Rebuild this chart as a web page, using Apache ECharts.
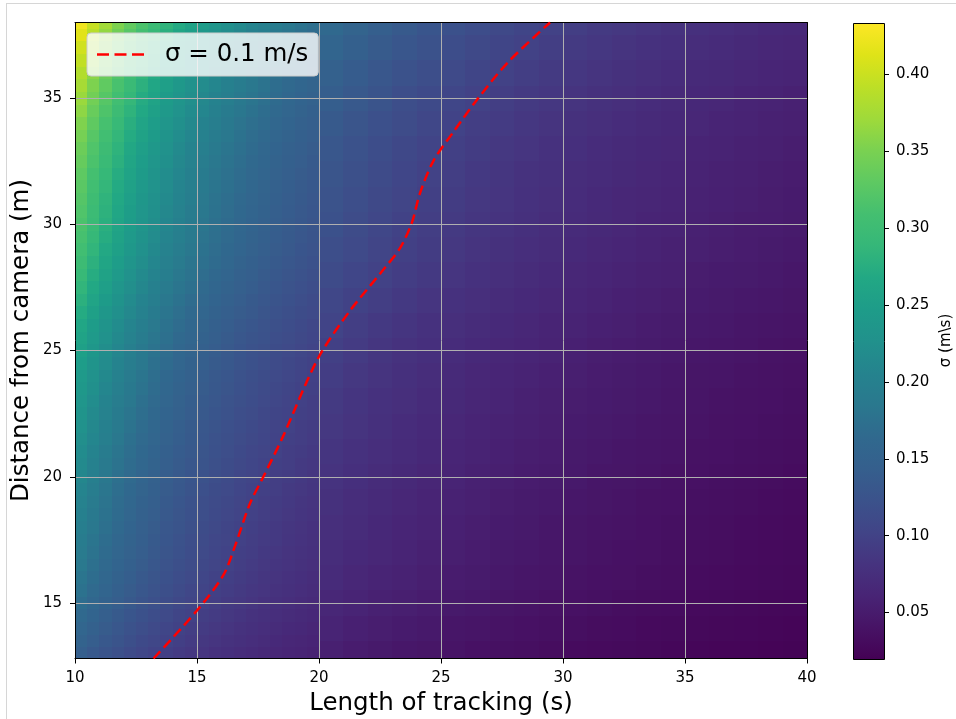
<!DOCTYPE html>
<html><head><meta charset="utf-8">
<script src="https://cdn.jsdelivr.net/npm/echarts@6/dist/echarts.min.js"></script>
<style>html,body{margin:0;padding:0;background:#fff}#c{width:956px;height:719px}</style>
</head><body><div id="c"></div>
<script>
// ---- data ----
// left part (T 10..20): finer cells
const xEdgesLeft = [10,10.5,11,11.5,12,12.5,13,13.5,14,14.5,15,15.5,16,16.5,17,17.5,18,18.5,19,19.5,20];
const yEdgesLeft = [12.8,13.25,13.75,14.25,14.75,15.25,15.75,16.25,16.75,17.25,17.75,18.25,18.75,19.25,19.75,20.25,20.75,21.25,21.75,22.25,22.75,23.25,23.75,24.25,24.75,25.25,25.75,26.25,26.75,27.25,27.75,28.25,28.75,29.25,29.75,30.25,30.75,31.25,31.75,32.25,32.75,33.25,33.75,34.25,34.75,35.25,35.75,36.25,36.75,37.25,37.75,38];
// sigma (m/s), rows bottom (D=13) to top (D=38) in 0.5 m steps
const sigmaLeft = [
[.145,.135,.127,.120,.113,.107,.102,.097,.092,.088,.084,.080,.077,.074,.071,.068,.066,.063,.061,.059],
[.152,.142,.133,.126,.119,.112,.107,.102,.097,.092,.088,.084,.081,.078,.075,.072,.069,.066,.064,.062],
[.158,.148,.139,.131,.124,.117,.111,.106,.101,.096,.092,.088,.084,.081,.078,.075,.072,.069,.067,.064],
[.165,.155,.145,.137,.129,.122,.116,.111,.105,.100,.096,.092,.088,.085,.081,.078,.075,.072,.070,.067],
[.171,.161,.151,.142,.134,.127,.121,.115,.109,.104,.100,.095,.091,.088,.084,.081,.078,.075,.072,.070],
[.177,.166,.156,.147,.139,.131,.125,.119,.113,.108,.103,.098,.094,.091,.087,.084,.081,.078,.075,.072],
[.182,.171,.161,.151,.143,.135,.128,.122,.116,.111,.106,.101,.097,.093,.089,.086,.083,.080,.077,.074],
[.187,.175,.165,.155,.147,.139,.131,.125,.119,.114,.109,.104,.100,.095,.092,.088,.085,.082,.079,.076],
[.191,.179,.168,.158,.150,.142,.134,.128,.122,.116,.111,.106,.102,.097,.094,.090,.087,.083,.081,.078],
[.194,.182,.171,.161,.153,.144,.137,.130,.124,.118,.113,.108,.104,.099,.096,.092,.089,.085,.082,.079],
[.197,.185,.174,.164,.155,.146,.139,.132,.126,.120,.115,.110,.105,.101,.097,.093,.090,.086,.083,.080],
[.201,.188,.177,.167,.158,.149,.142,.134,.128,.122,.117,.112,.107,.103,.099,.095,.092,.088,.085,.082],
[.204,.191,.180,.169,.160,.151,.144,.136,.130,.124,.118,.113,.109,.104,.100,.096,.093,.089,.086,.083],
[.208,.195,.183,.172,.163,.154,.147,.139,.133,.127,.121,.115,.111,.106,.102,.098,.095,.091,.088,.085],
[.212,.198,.186,.175,.166,.157,.149,.141,.135,.129,.123,.117,.113,.108,.104,.100,.096,.093,.089,.086],
[.216,.202,.190,.179,.169,.160,.152,.144,.138,.132,.126,.120,.115,.110,.106,.102,.098,.095,.091,.088],
[.220,.206,.194,.182,.172,.163,.155,.147,.140,.134,.128,.122,.117,.112,.108,.104,.100,.096,.093,.090],
[.224,.210,.198,.186,.175,.166,.158,.150,.143,.136,.130,.124,.119,.114,.110,.106,.102,.098,.095,.092],
[.228,.213,.201,.189,.178,.169,.160,.152,.145,.138,.132,.126,.121,.116,.112,.107,.103,.100,.096,.093],
[.232,.217,.204,.192,.182,.172,.163,.155,.148,.141,.135,.129,.123,.118,.114,.109,.105,.102,.098,.095],
[.236,.221,.207,.195,.185,.175,.166,.158,.150,.143,.137,.131,.125,.120,.116,.111,.107,.103,.099,.096],
[.240,.225,.211,.199,.188,.178,.169,.161,.153,.146,.139,.133,.128,.122,.118,.113,.109,.105,.101,.098],
[.244,.228,.215,.202,.191,.181,.172,.163,.155,.148,.141,.135,.130,.124,.119,.115,.111,.107,.103,.099],
[.249,.233,.219,.206,.195,.185,.175,.167,.158,.151,.144,.138,.133,.127,.122,.118,.113,.109,.105,.101],
[.254,.238,.223,.210,.199,.188,.178,.170,.161,.154,.147,.141,.135,.129,.124,.120,.115,.111,.107,.103],
[.260,.243,.228,.215,.204,.193,.183,.174,.165,.158,.151,.144,.138,.132,.127,.123,.118,.114,.110,.106],
[.265,.248,.233,.220,.208,.197,.187,.177,.169,.161,.154,.147,.141,.135,.130,.125,.120,.116,.112,.108],
[.272,.255,.239,.226,.213,.202,.192,.182,.173,.165,.158,.151,.145,.139,.134,.128,.123,.119,.115,.111],
[.279,.261,.245,.231,.218,.207,.196,.186,.177,.169,.162,.155,.148,.142,.137,.131,.126,.122,.118,.113],
[.286,.268,.252,.237,.224,.212,.201,.191,.182,.174,.166,.159,.152,.146,.141,.135,.130,.125,.121,.116],
[.293,.274,.258,.243,.229,.217,.206,.196,.186,.178,.170,.163,.156,.149,.144,.138,.133,.128,.124,.119],
[.300,.280,.264,.249,.235,.222,.211,.200,.191,.182,.174,.167,.160,.153,.147,.141,.136,.131,.127,.122],
[.306,.286,.269,.254,.240,.227,.215,.204,.195,.186,.177,.170,.163,.156,.150,.144,.139,.134,.129,.125],
[.311,.291,.274,.258,.244,.231,.219,.208,.198,.189,.180,.173,.166,.159,.153,.147,.141,.136,.131,.127],
[.315,.296,.278,.262,.247,.234,.222,.211,.201,.192,.183,.175,.168,.161,.155,.149,.143,.138,.133,.128],
[.319,.299,.281,.265,.250,.237,.225,.214,.204,.194,.185,.177,.170,.163,.157,.151,.145,.140,.135,.130],
[.323,.302,.284,.268,.253,.239,.227,.216,.206,.196,.187,.179,.172,.165,.158,.152,.147,.141,.136,.131],
[.327,.306,.288,.271,.256,.242,.230,.219,.208,.199,.190,.181,.174,.167,.160,.154,.149,.143,.138,.133],
[.330,.310,.291,.274,.259,.245,.232,.221,.210,.201,.192,.183,.176,.169,.162,.156,.150,.144,.139,.135],
[.336,.315,.296,.279,.263,.249,.236,.225,.214,.204,.195,.186,.179,.172,.165,.159,.153,.147,.142,.137],
[.341,.319,.300,.283,.267,.253,.240,.228,.217,.207,.198,.189,.181,.174,.167,.161,.155,.149,.144,.139],
[.348,.325,.306,.288,.272,.258,.245,.233,.221,.211,.202,.193,.185,.177,.170,.164,.158,.152,.147,.142],
[.354,.331,.311,.293,.277,.262,.249,.237,.225,.215,.205,.196,.188,.180,.173,.167,.160,.155,.149,.144],
[.362,.338,.318,.300,.283,.268,.254,.242,.230,.220,.210,.201,.192,.184,.177,.171,.164,.158,.152,.147],
[.369,.345,.324,.306,.289,.273,.259,.246,.235,.224,.214,.205,.196,.188,.181,.174,.167,.161,.155,.150],
[.377,.353,.332,.313,.296,.280,.265,.252,.240,.229,.219,.210,.201,.193,.185,.178,.171,.165,.159,.154],
[.385,.361,.339,.320,.302,.286,.271,.258,.245,.234,.224,.214,.205,.197,.189,.182,.175,.168,.163,.157],
[.395,.370,.348,.328,.310,.293,.278,.264,.251,.240,.230,.219,.210,.202,.194,.187,.179,.173,.167,.161],
[.404,.379,.356,.335,.317,.300,.284,.270,.257,.246,.235,.224,.215,.206,.198,.191,.183,.177,.171,.165],
[.415,.389,.365,.344,.325,.308,.292,.277,.264,.252,.241,.230,.221,.212,.203,.196,.188,.182,.175,.169],
[.425,.398,.374,.353,.333,.315,.299,.284,.271,.258,.247,.236,.226,.217,.208,.200,.193,.186,.179,.173]
];
// right part (T 20..40): 1 s x 1 m cells
const xEdgesRight = [20,21,22,23,24,25,26,27,28,29,30,31,32,33,34,35,36,37,38,39,40];
const yEdgesRight = [12.8,13.5,14.5,15.5,16.5,17.5,18.5,19.5,20.5,21.5,22.5,23.5,24.5,25.5,26.5,27.5,28.5,29.5,30.5,31.5,32.5,33.5,34.5,35.5,36.5,37.5,38];
const sigmaRight = [
[.056,.052,.049,.046,.044,.042,.039,.037,.036,.034,.032,.031,.030,.029,.027,.026,.025,.025,.024,.023],
[.061,.057,.054,.051,.048,.045,.043,.041,.039,.037,.036,.034,.033,.031,.030,.029,.028,.027,.026,.025],
[.066,.062,.058,.055,.052,.049,.047,.044,.042,.040,.039,.037,.035,.034,.033,.031,.030,.029,.028,.027],
[.071,.066,.062,.059,.055,.052,.050,.047,.045,.043,.041,.039,.038,.036,.035,.033,.032,.031,.030,.029],
[.074,.069,.065,.061,.058,.055,.052,.049,.047,.045,.043,.041,.039,.038,.036,.035,.034,.032,.031,.030],
[.076,.072,.067,.063,.060,.057,.054,.051,.049,.046,.044,.042,.041,.039,.037,.036,.035,.033,.032,.031],
[.079,.074,.070,.066,.062,.059,.056,.053,.050,.048,.046,.044,.042,.040,.039,.037,.036,.035,.033,.032],
[.082,.077,.072,.068,.064,.061,.058,.055,.052,.050,.048,.045,.044,.042,.040,.039,.037,.036,.035,.033],
[.085,.080,.075,.071,.067,.063,.060,.057,.054,.052,.049,.047,.045,.043,.042,.040,.039,.037,.036,.035],
[.088,.083,.078,.073,.069,.065,.062,.059,.056,.054,.051,.049,.047,.045,.043,.042,.040,.039,.037,.036],
[.091,.085,.080,.076,.071,.068,.064,.061,.058,.055,.053,.051,.049,.047,.045,.043,.041,.040,.039,.037],
[.094,.088,.083,.078,.074,.070,.066,.063,.060,.057,.055,.052,.050,.048,.046,.044,.043,.041,.040,.038],
[.098,.092,.086,.081,.077,.073,.069,.066,.063,.060,.057,.054,.052,.050,.048,.046,.045,.043,.041,.040],
[.103,.096,.090,.085,.080,.076,.072,.069,.065,.062,.060,.057,.055,.052,.050,.048,.047,.045,.043,.042],
[.108,.101,.095,.089,.084,.080,.076,.072,.069,.066,.063,.060,.057,.055,.053,.051,.049,.047,.046,.044],
[.113,.106,.100,.094,.089,.084,.080,.076,.072,.069,.066,.063,.060,.058,.056,.053,.051,.050,.048,.046],
[.118,.111,.104,.098,.093,.088,.083,.079,.075,.072,.069,.066,.063,.060,.058,.056,.054,.052,.050,.048],
[.122,.114,.108,.101,.096,.091,.086,.082,.078,.074,.071,.068,.065,.062,.060,.058,.055,.053,.052,.050],
[.125,.117,.110,.104,.098,.093,.088,.084,.080,.076,.073,.069,.066,.064,.061,.059,.057,.055,.053,.051],
[.128,.120,.113,.106,.100,.095,.090,.086,.081,.078,.074,.071,.068,.065,.063,.060,.058,.056,.054,.052],
[.132,.124,.116,.109,.103,.098,.093,.088,.084,.080,.077,.073,.070,.067,.065,.062,.060,.058,.056,.054],
[.137,.128,.121,.114,.107,.102,.096,.092,.087,.083,.079,.076,.073,.070,.067,.065,.062,.060,.058,.056],
[.143,.134,.126,.118,.112,.106,.100,.095,.091,.087,.083,.079,.076,.073,.070,.067,.065,.062,.060,.058],
[.149,.140,.131,.124,.117,.111,.105,.100,.095,.091,.087,.083,.079,.076,.073,.070,.068,.065,.063,.061],
[.156,.147,.138,.130,.123,.116,.110,.105,.100,.095,.091,.087,.083,.080,.077,.074,.071,.068,.066,.064],
[.164,.154,.145,.136,.129,.122,.116,.110,.105,.100,.095,.091,.088,.084,.081,.078,.075,.072,.069,.067]
];
// sigma = 0.1 m/s contour (length of tracking, distance)
const contourT = [13.22,14.99,16.08,16.56,17.17,17.72,18.54,19.49,20.11,21.27,22.64,23.32,23.80,24.14,24.69,25.50,26.46,27.75,29.47];
const contourD = [12.80,14.69,16.10,17.26,18.94,20.00,21.63,23.75,24.95,26.58,28.21,29.06,30.05,31.24,32.52,33.65,34.92,36.43,38.00];
const xTicks = [10,15,20,25,30,35,40];
const yTicks = [15,20,25,30,35];
const cbTicks = [0.05,0.10,0.15,0.20,0.25,0.30,0.35,0.40];
const sigmaRange = [0.0201, 0.4338];
const xRange = [10, 40];
const yRange = [12.8, 38];
const legendLabel = 'σ = 0.1 m/s';
const xTitle = 'Length of tracking (s)';
const yTitle = 'Distance from camera (m)';
const cbTitle = 'σ (m\\s)';

// ---- presentation ----
const FONT = 'DejaVu Sans';
const viridis = ['#440154','#471365','#482475','#46337f','#414487','#3b528b','#355f8d','#30698e','#2a788e','#25838e','#21918c','#1e9c89','#22a884','#35b779','#44bf70','#5ec962','#7ad151','#9fda3a','#bddf26','#dfe318','#fde725'];

const cells = [];
function addCells(xe, ye, grid) {
  for (let i = 0; i < grid.length; i++) {
    for (let j = 0; j < grid[i].length; j++) {
      cells.push([xe[j], xe[j + 1], ye[i], ye[i + 1], grid[i][j]]);
    }
  }
}
addCells(xEdgesLeft, yEdgesLeft, sigmaLeft);
addCells(xEdgesRight, yEdgesRight, sigmaRight);
const contour = contourT.map((t, i) => [t, contourD[i]]);

function renderCell(params, api) {
  const p0 = api.coord([api.value(0), api.value(3)]);
  const p1 = api.coord([api.value(1), api.value(2)]);
  const x0 = Math.round(p0[0]), y0 = Math.round(p0[1]);
  const x1 = Math.round(p1[0]), y1 = Math.round(p1[1]);
  return {
    type: 'rect',
    shape: { x: x0, y: y0, width: x1 - x0, height: y1 - y0 },
    style: { fill: api.visual('color'), stroke: null }
  };
}
function renderBar(params, api) {
  const p0 = api.coord([api.value(0), api.value(3)]);
  const p1 = api.coord([api.value(1), api.value(2)]);
  return {
    type: 'rect',
    shape: { x: Math.round(p0[0]) + 0.5, y: Math.round(p0[1]) + 0.5, width: Math.round(p1[0] - p0[0]), height: Math.round(p1[1] - p0[1]) },
    style: {
      fill: new echarts.graphic.LinearGradient(0, 1, 0, 0, viridis.map((c, k) => ({ offset: k / (viridis.length - 1), color: c }))),
      stroke: '#000', lineWidth: 1
    }
  };
}

const tickLabel = { fontSize: 15, color: '#000', fontFamily: FONT };
const frameAxis = { axisLine: { show: true, onZero: false, lineStyle: { color: '#000', width: 1 } }, axisTick: { show: false }, axisLabel: { show: false }, splitLine: { show: false }, z: 4 };

const chart = echarts.init(document.getElementById('c'), null, { renderer: 'canvas' });
chart.setOption({
  animation: false,
  backgroundColor: '#fff',
  textStyle: { fontFamily: FONT },
  graphic: [
    { type: 'line', shape: { x1: 6, y1: 3.5, x2: 956, y2: 3.5 }, style: { stroke: '#d6d6d6', lineWidth: 1 }, silent: true },
    { type: 'line', shape: { x1: 6.5, y1: 3, x2: 6.5, y2: 719 }, style: { stroke: '#d6d6d6', lineWidth: 1 }, silent: true }
  ],
  grid: [
    { left: 75, top: 22.5, width: 732, height: 636, outerBoundsMode: 'none', containLabel: false },
    { left: 853, top: 22.5, width: 31, height: 636, outerBoundsMode: 'none', containLabel: false }
  ],
  xAxis: [
    { type: 'value', gridIndex: 0, min: xRange[0], max: xRange[1], interval: 5, position: 'bottom',
      name: xTitle, nameLocation: 'middle', nameGap: 33,
      nameTextStyle: { fontSize: 24.5, color: '#000', fontFamily: FONT },
      axisLine: { show: true, onZero: false, lineStyle: { color: '#000', width: 1 } },
      axisTick: { show: true, length: 5, lineStyle: { color: '#000', width: 1 }, customValues: xTicks },
      axisLabel: Object.assign({ margin: 12, customValues: xTicks }, tickLabel),
      splitLine: { show: true, lineStyle: { color: '#b0b0b0', width: 1 } }, z: 3 },
    Object.assign({ type: 'value', gridIndex: 0, min: xRange[0], max: xRange[1], position: 'top' }, frameAxis),
    { type: 'value', gridIndex: 1, min: 0, max: 1, show: false }
  ],
  yAxis: [
    { type: 'value', gridIndex: 0, min: yRange[0], max: yRange[1], position: 'left',
      name: yTitle, nameLocation: 'middle', nameGap: 41, nameRotate: 90, nameMoveOverlap: false,
      nameTextStyle: { fontSize: 24.5, color: '#000', fontFamily: FONT },
      axisLine: { show: true, onZero: false, lineStyle: { color: '#000', width: 1 } },
      axisTick: { show: true, length: 5, lineStyle: { color: '#000', width: 1 }, customValues: yTicks },
      axisLabel: Object.assign({ margin: 13, customValues: yTicks }, tickLabel),
      splitLine: { show: true, lineStyle: { color: '#b0b0b0', width: 1 } }, z: 3 },
    Object.assign({ type: 'value', gridIndex: 0, min: yRange[0], max: yRange[1], position: 'right' }, frameAxis),
    { type: 'value', gridIndex: 1, min: sigmaRange[0], max: sigmaRange[1], position: 'right',
      name: cbTitle, nameLocation: 'middle', nameGap: 55, nameRotate: 90,
      nameTextStyle: { fontSize: 15, color: '#000', fontFamily: FONT },
      axisLine: { show: false, onZero: false },
      axisTick: { show: true, length: 5, lineStyle: { color: '#000', width: 1 }, customValues: cbTicks },
      axisLabel: Object.assign({ margin: 12, customValues: cbTicks, formatter: v => v.toFixed(2) }, tickLabel),
      splitLine: { show: false }, z: 3 }
  ],
  visualMap: {
    type: 'continuous', show: false, min: sigmaRange[0], max: sigmaRange[1],
    dimension: 4, seriesIndex: 0, inRange: { color: viridis }
  },
  legend: {
    left: 87, top: 33, orient: 'horizontal',
    padding: [9, 10, 9, 10],
    backgroundColor: 'rgba(255,255,255,0.8)', borderColor: '#cccccc', borderWidth: 1, borderRadius: 4,
    itemWidth: 47, itemHeight: 2.5,
    textStyle: { fontSize: 24.5, color: '#000', fontFamily: FONT, padding: [0, 0, 0, 16] },
    data: [{ name: legendLabel, icon: 'path://M0,0h12v2.5h-12z M17.5,0h12v2.5h-12z M35,0h12v2.5h-12z' }]
  },
  series: [
    { type: 'custom', name: 'sigma', xAxisIndex: 0, yAxisIndex: 0, z: 1, clip: true, silent: true,
      renderItem: renderCell, data: cells, encode: { x: [0, 1], y: [2, 3] } },
    { type: 'custom', name: 'colorbar', xAxisIndex: 2, yAxisIndex: 2, z: 1, silent: true,
      renderItem: renderBar, data: [[0, 1, sigmaRange[0], sigmaRange[1]]], encode: { x: [0, 1], y: [2, 3] } },
    { type: 'line', name: legendLabel, xAxisIndex: 0, yAxisIndex: 0, data: contour, symbol: 'none',
      smooth: 0.3, clip: true, z: 5,
      lineStyle: { color: '#ff0000', width: 2.5, type: [10, 5] }, itemStyle: { color: '#ff0000' } }
  ]
});
</script>
</body></html>
